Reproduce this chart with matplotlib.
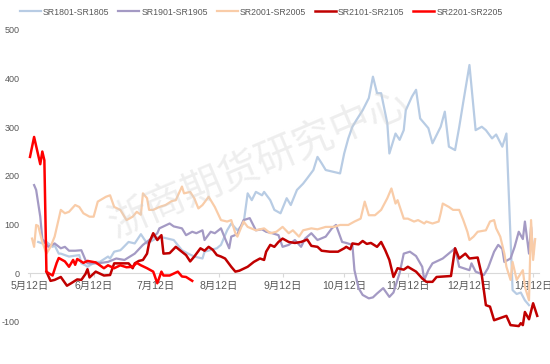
import pandas as pd
import matplotlib.pyplot as plt

# days counted from 5月12日
sr1801_days = [4, 6, 8, 11, 12, 14, 15, 19, 24, 25, 27, 28, 32, 34, 38, 39, 41, 44, 45, 48,
               51, 54, 57, 60, 63, 67, 70, 74, 77, 80, 84, 85, 91, 93, 96, 98, 101, 104, 106, 108,
               110, 113, 114, 117, 119, 122, 125, 127, 130, 133, 135, 138, 140, 142, 144, 148, 151, 153, 155, 157,
               159, 162, 165, 167, 169, 171, 174, 175, 178, 180, 182, 183, 186, 188, 190, 194, 196, 200, 202, 204,
               207, 209, 211, 214, 217, 220, 222, 225, 227, 230, 232, 235, 237, 239, 241, 243]
sr1801_vals = [64, 61, 64, 54, 57, 40, 40, 34, 37, 20, 16, 13, 23, 23, 34, 30, 44, 47, 51, 64,
               61, 80, 61, 68, 75, 71, 68, 47, 40, 34, 30, 44, 51, 58, 88, 102, 88, 102, 164, 150,
               167, 160, 167, 150, 130, 123, 154, 140, 171, 184, 195, 212, 239, 226, 212, 208, 205, 246, 277, 301,
               315, 335, 360, 404, 370, 370, 308, 246, 287, 274, 294, 335, 363, 377, 318, 298, 267, 301, 332, 260,
               253, 300, 352, 428, 294, 301, 294, 277, 285, 260, 287, -35, -43, -40, -56, -66]

sr1901_days = [2, 3, 5, 6, 9, 12, 15, 17, 19, 22, 25, 27, 28, 33, 38, 42, 46, 51, 55, 59,
               62, 63, 68, 70, 74, 76, 79, 81, 84, 85, 88, 90, 93, 95, 97, 98, 101, 104, 107, 110,
               113, 115, 118, 121, 123, 126, 129, 132, 134, 137, 140, 144, 147, 149, 152, 154, 157, 158, 160, 162,
               165, 167, 169, 172, 175, 177, 180, 182, 185, 188, 191, 192, 194, 196, 201, 207, 209, 214, 215, 217,
               221, 223, 226, 228, 230, 231, 234, 236, 238, 240, 241, 243, 244, 245]
sr1901_vals = [181, 171, 116, 70, 54, 61, 51, 54, 46, 46, 47, 27, 20, 20, 23, 30, 27, 40, 58, 71,
               82, 92, 102, 96, 92, 78, 85, 82, 88, 68, 85, 82, 92, 71, 51, 75, 80, 109, 113, 88,
               90, 85, 82, 78, 54, 58, 68, 54, 71, 82, 68, 75, 92, 99, 64, 62, 58, 6, -31, -45,
               -52, -50, -42, -31, -49, -40, 0, 40, 44, 35, 13, -14, 6, 20, 30, 51, 13, 6, 20, 3,
               -4, 10, 44, 58, 50, 23, 30, 54, 85, 70, 106, 40, 95, 40]

sr2001_days = [1, 2, 3, 4, 6, 8, 10, 12, 15, 17, 19, 22, 24, 26, 29, 31, 33, 37, 39, 41,
               44, 45, 47, 50, 52, 54, 55, 57, 58, 60, 63, 66, 69, 71, 74, 75, 78, 80, 82, 84,
               87, 90, 93, 96, 98, 100, 101, 104, 106, 110, 114, 117, 120, 123, 126, 128, 131, 133, 137, 140,
               144, 148, 151, 155, 158, 161, 163, 165, 168, 171, 174, 176, 178, 179, 182, 184, 187, 189, 192, 193,
               196, 199, 200, 201, 204, 206, 209, 211, 213, 214, 216, 218, 222, 224, 226, 227, 229, 231, 232, 234,
               235, 237, 240, 241, 243, 244, 245, 246]
sr2001_vals = [71, 54, 99, 97, 64, 40, 54, 75, 130, 123, 126, 140, 136, 123, 116, 116, 147, 157, 160, 136,
               130, 123, 109, 116, 126, 120, 164, 154, 130, 130, 136, 140, 148, 150, 178, 164, 167, 154, 133, 140,
               157, 136, 109, 106, 109, 82, 75, 106, 95, 88, 92, 82, 85, 95, 82, 88, 75, 88, 92, 90,
               95, 95, 99, 99, 106, 112, 147, 119, 119, 130, 154, 174, 143, 150, 112, 112, 106, 109, 102, 106,
               102, 106, 123, 143, 136, 130, 130, 109, 85, 68, 75, 85, 88, 106, 109, 92, 75, 40, 13, -14,
               23, -14, 6, -28, -56, 109, 27, 70]

sr2101_days = [8, 10, 12, 15, 16, 18, 20, 23, 25, 27, 28, 29, 32, 34, 36, 39, 41, 44, 48, 50,
               51, 53, 55, 57, 58, 60, 62, 64, 65, 68, 71, 73, 76, 78, 80, 83, 85, 87, 89, 91,
               93, 95, 98, 100, 102, 106, 109, 112, 114, 115, 117, 119, 121, 123, 126, 129, 132, 135, 137, 140,
               142, 146, 150, 153, 154, 156, 157, 160, 162, 164, 166, 169, 171, 173, 175, 177, 179, 182, 184, 188,
               191, 193, 196, 198, 205, 207, 209, 212, 214, 218, 220, 222, 224, 226, 232, 234, 238, 239, 240, 241,
               243, 245, 247]
sr2101_vals = [3, -16, -14, -8, -14, -26, -21, -13, -14, -2, 8, -9, 3, -1, -5, -4, 20, 20, 20, 10,
               20, 25, 27, 40, 62, 82, 68, 78, 40, 41, 54, 47, 37, 24, 34, 51, 46, 54, 48, 37,
               34, 30, 13, 3, 5, 13, 23, 30, 27, 44, 58, 54, 64, 71, 64, 62, 64, 69, 56, 54,
               46, 44, 44, 51, 54, 49, 61, 59, 66, 60, 62, 54, 64, 47, 27, -8, 10, 7, 13, 3,
               -11, -18, -18, -8, -6, 51, 30, 40, 30, 32, -4, -66, -69, -97, -88, -107, -109, -103, -107, -80,
               -95, -62, -88]

sr2201_days = [0, 2, 5, 6, 7, 8, 9, 11, 13, 14, 17, 19, 21, 22, 23, 26, 28, 32, 34, 36,
               38, 41, 44, 47, 50, 52, 54, 57, 60, 62, 64, 65, 68, 72, 74, 76, 79]
sr2201_vals = [239, 280, 224, 250, 232, 3, 0, -5, 21, 31, 24, 13, 27, 17, 29, 21, 25, 22, 16, 10,
               16, 10, 16, 12, 13, 21, 16, 10, 3, -21, 3, -5, -5, 3, -7, -8, -16]

tick_labels = ["5月12日", "6月12日", "7月12日", "8月12日", "9月12日",
               "10月12日", "11月12日", "12月12日", "1月12日"]


def main():
    plt.rcParams["font.family"] = ["Liberation Sans", "Noto Sans CJK SC", "DejaVu Sans"]
    plt.rcParams["axes.unicode_minus"] = False
    base = pd.Timestamp("2020-05-12")
    series = [
        ("SR1801-SR1805", sr1801_days, sr1801_vals, "#B8CCE4", 1.6),
        ("SR1901-SR1905", sr1901_days, sr1901_vals, "#A49AC4", 1.6),
        ("SR2001-SR2005", sr2001_days, sr2001_vals, "#F9CCA8", 1.6),
        ("SR2101-SR2105", sr2101_days, sr2101_vals, "#C00000", 1.8),
        ("SR2201-SR2205", sr2201_days, sr2201_vals, "#FF0000", 1.8),
    ]

    fig = plt.figure(figsize=(5.5, 3.64), dpi=100)
    ax = fig.add_axes([0.0508, 0.0, 0.9297, 0.9176])

    fig.text(0.47, 0.55, "浙商期货研究中心", fontsize=29, color="#D0D0D0", alpha=0.35,
             rotation=23, ha="center", va="center", family="Noto Sans CJK SC", zorder=0)

    for label, days, vals, color, lw in series:
        x = base + pd.to_timedelta(days, unit="D")
        ax.plot(x, vals, label=label, color=color, linewidth=lw, zorder=3)

    ticks = pd.date_range(base, periods=9, freq=pd.DateOffset(months=1))
    ax.set_xticks(ticks, tick_labels)
    ax.set_xlim(base - pd.Timedelta(days=1), base + pd.Timedelta(days=248))
    ax.set_ylim(-187, 500)
    ax.set_yticks([-100, 0, 100, 200, 300, 400, 500])
    ax.tick_params(axis="y", length=0, pad=6, labelsize=6.5, labelcolor="#595959")
    ax.tick_params(axis="x", length=3, color="#D9D9D9", pad=3, labelsize=7.5,
                   labelcolor="#595959")

    for side in ["top", "right", "left"]:
        ax.spines[side].set_visible(False)
    ax.spines["bottom"].set_position(("data", 0))
    ax.spines["bottom"].set_color("#D9D9D9")
    ax.patch.set_alpha(0)

    fig.legend(loc="center", bbox_to_anchor=(0.475, 0.967), ncol=5, frameon=False,
               fontsize=6.3, handlelength=2.4, handletextpad=0.25, columnspacing=1.0,
               labelcolor="#595959")
    fig.savefig("out.png", dpi=100)


if __name__ == "__main__":
    main()
